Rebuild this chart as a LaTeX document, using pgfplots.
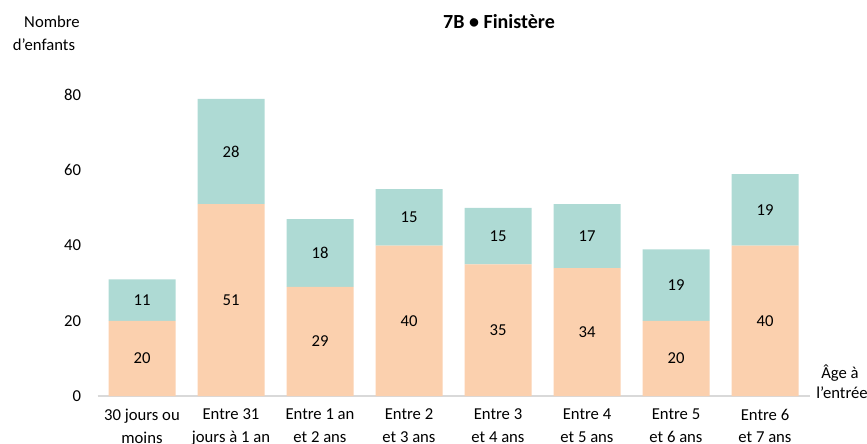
\documentclass[border=0pt]{standalone}
\usepackage{pgfplots}
\pgfplotsset{compat=1.18}
\usepackage{pgfplotstable}
\usepackage{fontspec}
\setmainfont{Carlito}
\definecolor{orangebar}{HTML}{FBD0AE}
\definecolor{tealbar}{HTML}{AEDAD4}
\definecolor{baseline}{HTML}{D9D9D9}
\newcommand\ff{\fontsize{12.5}{15}\selectfont}
\pgfplotstableread{
x a b
0 20 11
1 51 28
2 29 18
3 40 15
4 35 15
5 34 17
6 20 19
7 40 19
}\datatable
\begin{document}
\begin{tikzpicture}[x=0.75pt,y=0.75pt]
\ff
\path[use as bounding box] (0,0) rectangle (867,443);
\begin{axis}[
  at={(73.125pt,35.25pt)}, anchor=south west,
  scale only axis, width=534pt, height=225.75pt,
  ybar stacked, bar width=50.25pt,
  xmin=-0.5, xmax=7.5, ymin=0, ymax=80,
  xtick=data,
  xticklabels={{30 jours ou\\moins},{Entre 31\\jours à 1 an},{Entre 1 an\\et 2 ans},{Entre 2\\et 3 ans},{Entre 3\\et 4 ans},{Entre 4\\et 5 ans},{Entre 5\\et 6 ans},{Entre 6\\et 7 ans}},
  xticklabel style={align=center, font=\fontsize{12.5}{16.8}\selectfont, yshift=-5.5pt},
  ytick={0,20,40,60,80},
  yticklabel style={anchor=east, xshift=-8pt, font=\ff},
  /pgf/number format/assume math mode=true,
  major tick length=0pt,
  axis x line*=bottom, axis y line*=left,
  y axis line style={draw=none},
  x axis line style={-, draw=baseline, line width=1.2pt},
  clip=false,
  point meta=explicit symbolic,
  nodes near coords={\pgfplotspointmeta},
  every node near coord/.append style={anchor=center, font=\ff, text=black},
]
\addplot[fill=orangebar, draw=none] table[x=x, y=a, meta=a] {\datatable};
\addplot[fill=tealbar, draw=none] table[x=x, y=b, meta=b] {\datatable};
\end{axis}
\node[font=\fontsize{15}{18}\selectfont\bfseries] at (499,421) {7B • Finistère};
\node[font=\ff] at (52,421) {Nombre};
\node[font=\ff] at (44,398) {d’enfants};
\node[font=\ff] at (840,70) {Âge à};
\node[font=\ff] at (842,50) {l’entrée};
\end{tikzpicture}
\end{document}
